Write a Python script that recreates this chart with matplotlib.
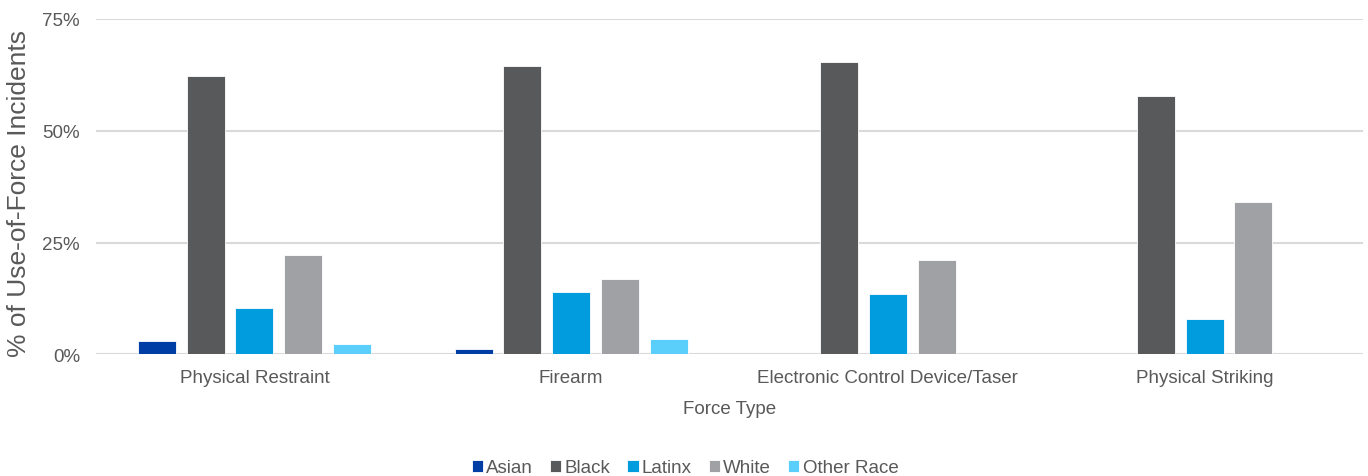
import matplotlib.pyplot as plt
import numpy as np

plt.rcParams['font.family'] = ['Liberation Sans', 'DejaVu Sans']

force_types = ["Physical Restraint", "Firearm", "Electronic Control Device/Taser", "Physical Striking"]
races = ["Asian", "Black", "Latinx", "White", "Other Race"]

asian = [2.9, 1.1, 0.0, 0.0]
black = [62.2, 64.5, 65.4, 57.8]
latinx = [10.3, 13.9, 13.5, 7.8]
white = [22.1, 16.9, 21.1, 34.1]
other_race = [2.3, 3.4, 0.0, 0.0]

series = [asian, black, latinx, white, other_race]
colors = ["#003DA5", "#58595B", "#009CDE", "#A0A1A5", "#5BCFFB"]

yticks = [0, 25, 50, 75]
ytick_labels = ["0%", "25%", "50%", "75%"]

text_color = "#595959"
grid_color = "#D9D9D9"

fig = plt.figure(figsize=(13.68, 4.77), dpi=100)
ax = fig.add_axes([96 / 1368, 1 - 355.3 / 477, (1363 - 96) / 1368, 335.3 / 477])

x = np.arange(len(force_types))
step = 0.154
width = 0.12
for i, (vals, col, name) in enumerate(zip(series, colors, races)):
    ax.bar(x + (i - 2) * step, vals, width=width, color=col, label=name,
           edgecolor="white", linewidth=0.6, zorder=3)

ax.set_xlim(-0.5, len(force_types) - 0.5)
ax.set_ylim(0, 75)
ax.set_yticks(yticks)
ax.set_yticklabels(ytick_labels)
ax.set_xticks(x)
ax.set_xticklabels(force_types)

ax.grid(axis="y", color=grid_color, linewidth=1.5, zorder=0)
ax.set_axisbelow(True)
for s in ax.spines.values():
    s.set_visible(False)
ax.tick_params(axis="both", length=0, colors=text_color, labelsize=13.5)
ax.tick_params(axis="x", pad=10.5)
ax.tick_params(axis="y", pad=11.5)

ax.set_xlabel("Force Type", color=text_color, fontsize=13.5, labelpad=10.5)
ax.set_ylabel("% of Use-of-Force Incidents", color=text_color, fontsize=19)
ax.yaxis.set_label_coords(-0.0515, 0.483)

leg = fig.legend(loc="center", bbox_to_anchor=(685 / 1368, 1 - 469 / 477), ncol=5,
                 frameon=False, fontsize=13.5, handlelength=0.6, handleheight=0.6,
                 handletextpad=0.18, columnspacing=0.9)
for t in leg.get_texts():
    t.set_color(text_color)

fig.savefig("out.png", dpi=100)
